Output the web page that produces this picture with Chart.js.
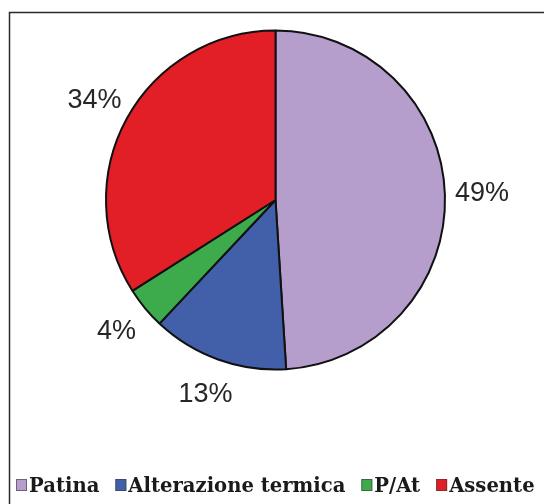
<!DOCTYPE html>
<html>
<head>
<meta charset="utf-8">
<script src="https://cdn.jsdelivr.net/npm/chart.js@4/dist/chart.umd.min.js"></script>
<style>
	html, body { margin: 0; padding: 0; background: #fff; }
	#wrap { width: 544px; height: 504px; }
</style>
</head>
<body>
<div id="wrap"><canvas id="torta" width="544" height="504"></canvas></div>
<script>
// Dati
const categorie = ["Patina", "Alterazione termica", "P/At", "Assente"];
const percentuali = [49, 13, 4, 34];
const colori = ["#b59dcc", "#4160a9", "#3dab4b", "#e21e26"];

// cornice attorno al grafico
const cornice = {
	id: "cornice",
	beforeDraw(chart) {
		const ctx = chart.ctx;
		ctx.save();
		ctx.fillStyle = "#fff";
		ctx.fillRect(0, 0, chart.width, chart.height);
		ctx.strokeStyle = "#2a2a2a";
		ctx.lineWidth = 1.5;
		ctx.strokeRect(9.5, 12.5, chart.width + 20, chart.height + 20);
		ctx.restore();
	},
};

// percentuali fuori dagli spicchi
const etichette = {
	id: "etichette",
	afterDatasetsDraw(chart) {
		const ctx = chart.ctx;
		const meta = chart.getDatasetMeta(0);
		ctx.save();
		ctx.font = "27px 'Liberation Sans', Arial, sans-serif";
		ctx.fillStyle = "#262626";
		ctx.textAlign = "center";
		ctx.textBaseline = "middle";
		meta.data.forEach((arc, i) => {
			const p = arc.getProps(["x", "y", "startAngle", "endAngle", "outerRadius"], true);
			const mid = (p.startAngle + p.endAngle) / 2;
			const r = p.outerRadius + 37;
			ctx.fillText(percentuali[i] + "%", p.x + Math.cos(mid) * r, p.y + Math.sin(mid) * r);
		});
		ctx.restore();
	},
};

// legenda in basso
const legenda = {
	id: "legenda",
	afterDraw(chart) {
		const ctx = chart.ctx;
		ctx.save();
		ctx.font = "bold 19.6px 'DejaVu Serif', serif";
		ctx.textBaseline = "alphabetic";
		let x = 16;
		const y = 492;
		categorie.forEach((nome, i) => {
			ctx.fillStyle = colori[i];
			ctx.fillRect(x, 479, 11, 12);
			ctx.strokeStyle = "rgba(60,60,60,0.6)";
			ctx.lineWidth = 1;
			ctx.strokeRect(x + 0.5, 479.5, 10, 11);
			x += 13;
			ctx.fillStyle = "#1a1a1a";
			ctx.fillText(nome, x, y);
			x += ctx.measureText(nome).width + 16;
		});
		ctx.restore();
	},
};

new Chart(document.getElementById("torta"), {
	type: "pie",
	data: {
		labels: categorie,
		datasets: [
			{
				data: percentuali,
				backgroundColor: colori,
				borderColor: "#111",
				borderWidth: 2,
			},
		],
	},
	options: {
		responsive: false,
		animation: false,
		layout: { padding: { left: 105, right: 98, top: 29, bottom: 133 } },
		plugins: {
			legend: { display: false },
			tooltip: { enabled: false },
		},
	},
	plugins: [cornice, etichette, legenda],
});
</script>
</body>
</html>
